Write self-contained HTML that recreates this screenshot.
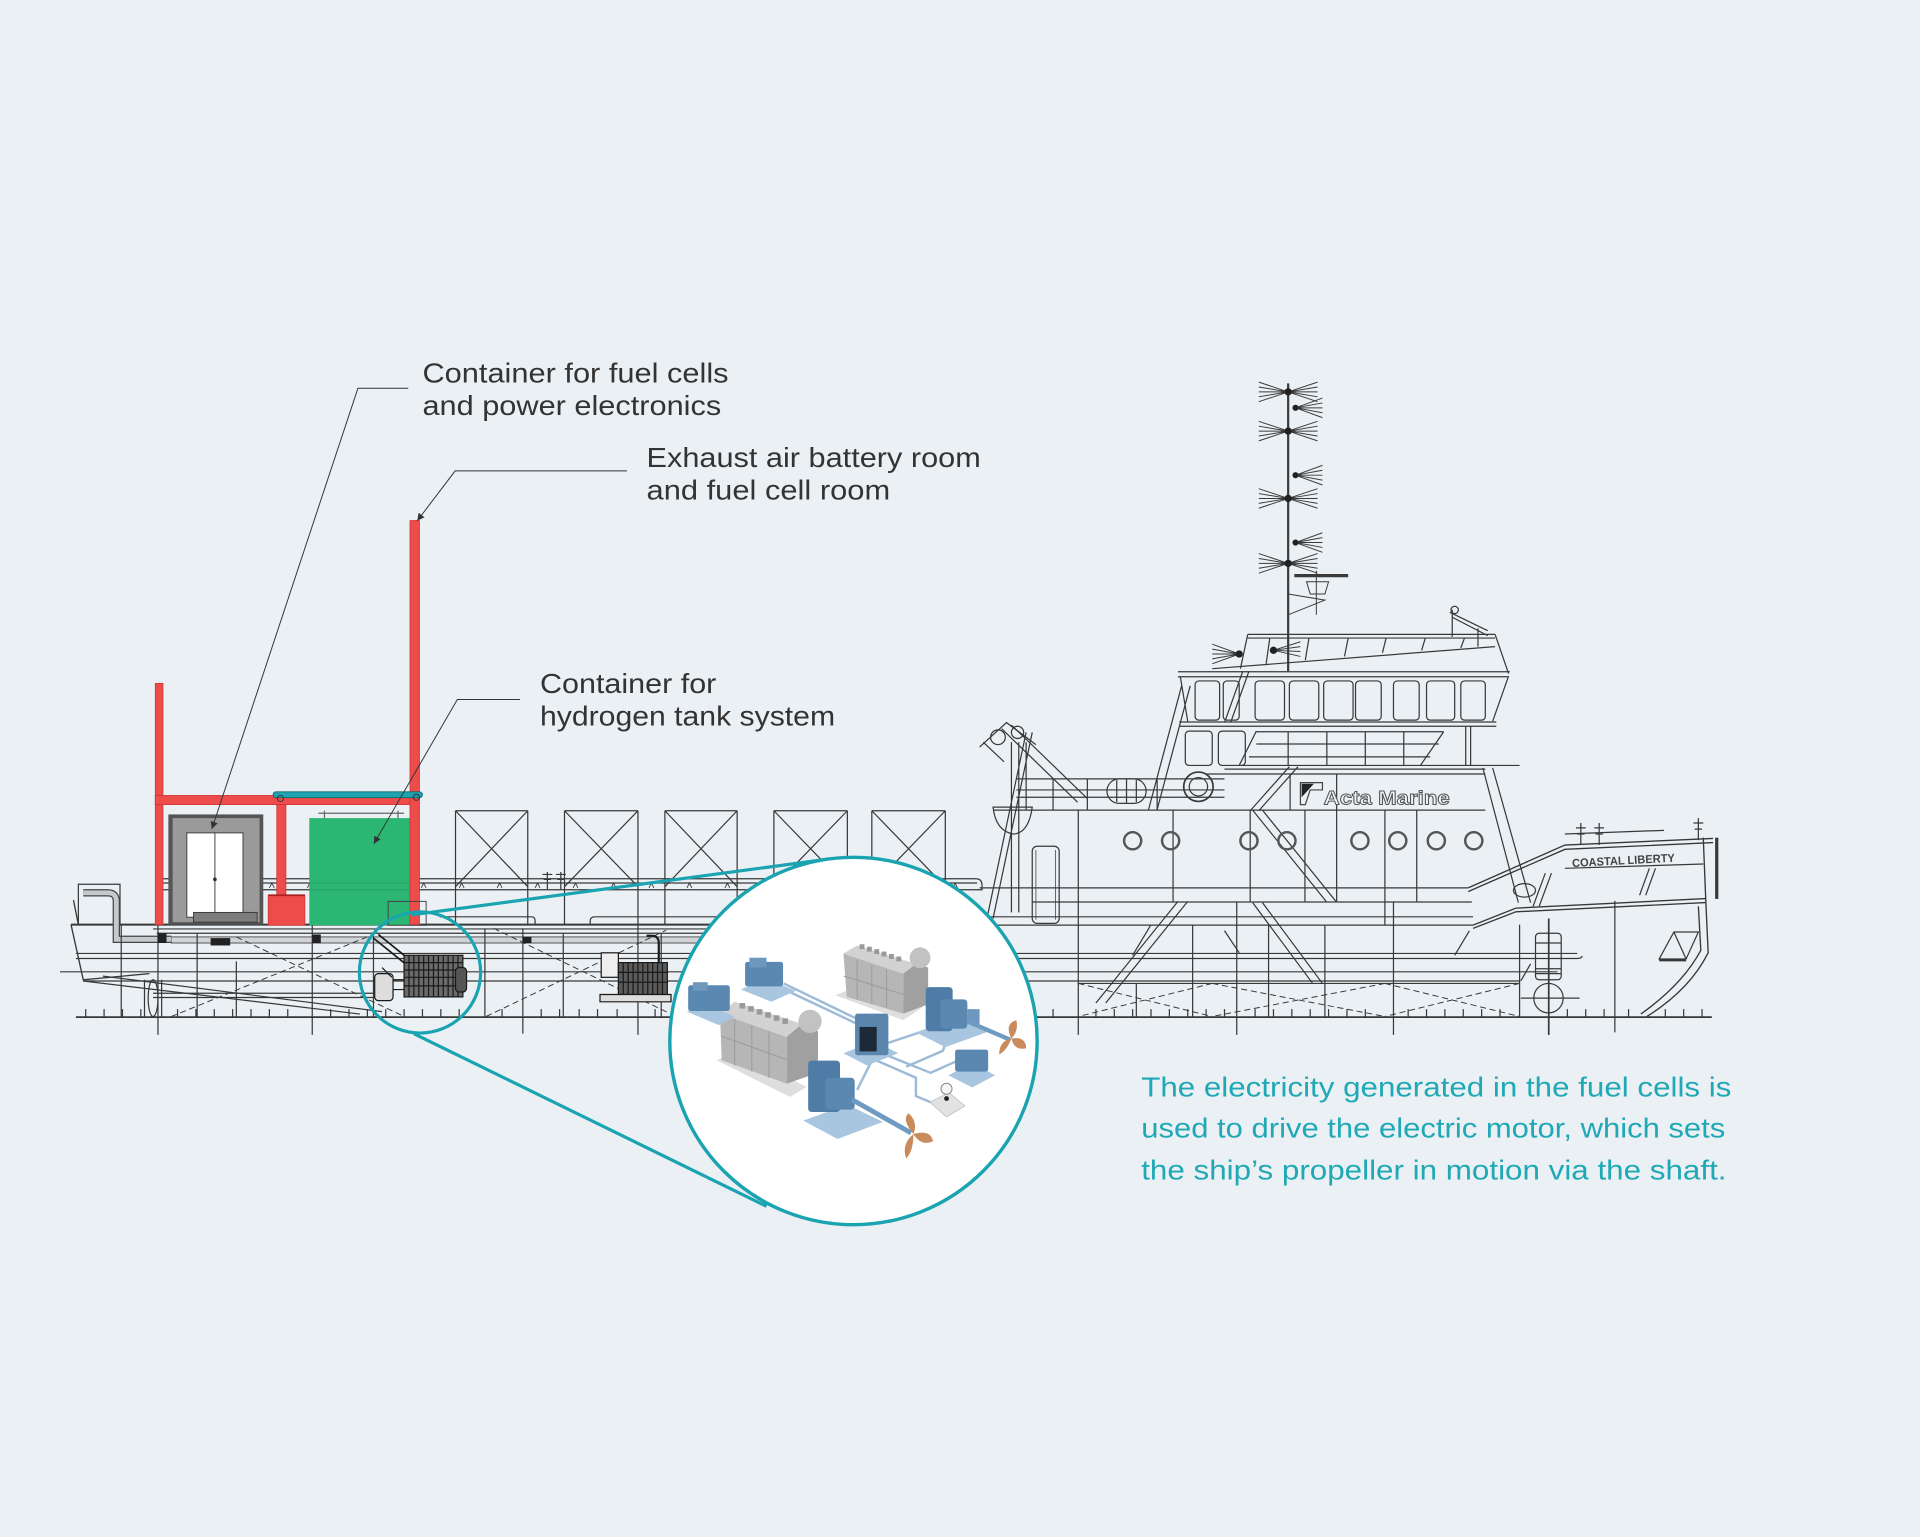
<!DOCTYPE html>
<html><head><meta charset="utf-8">
<style>
html,body{margin:0;padding:0;background:#ebf0f4;}
svg{display:block;}
text{font-family:"Liberation Sans",sans-serif;}
</style></head><body>
<svg xmlns="http://www.w3.org/2000/svg" width="1920" height="1537" viewBox="0 0 1568 1255" preserveAspectRatio="none">
<defs>
<marker id="ar" markerUnits="userSpaceOnUse" markerWidth="7" markerHeight="7" refX="6" refY="3" orient="auto"><path d="M0,0 L6,3 L0,6 Z" fill="#333"/></marker>
</defs>
<rect width="1568" height="1255" fill="#ebf0f4"/>

<!-- ================= HULL LINES ================= -->
<g stroke="#383838" stroke-width="1" fill="none">
  <path d="M58,755 H812" stroke-width="1.6"/>
  <path d="M125,758.5 H812 M128,762 H812"/>
  <path d="M62,778.5 H1288 M62,782.6 H1288 Q1292,782.6 1292,780.5"/>
  <path d="M49,793.5 H1272"/>
  <path d="M68,801 H1241"/>
  <path d="M125,811 H320 M125,814.5 H320"/>
  <path d="M62,830.5 H1398" stroke-width="1.5"/>
  <rect x="140" y="765" width="660" height="5" fill="#d0d4d8" stroke="#555" stroke-width="0.8"/>
  <path d="M128,717.5 H797 Q802,717.5 802,723 V727 M128,721 H798 M128,726.5 H802"/>
  <path d="M158,725 l2,-4 l2,4 M189,725 l2,-4 l2,4 M220,725 l2,-4 l2,4 M251,725 l2,-4 l2,4 M282,725 l2,-4 l2,4 M313,725 l2,-4 l2,4 M344,725 l2,-4 l2,4 M375,725 l2,-4 l2,4 M406,725 l2,-4 l2,4 M437,725 l2,-4 l2,4 M468,725 l2,-4 l2,4 M499,725 l2,-4 l2,4 M530,725 l2,-4 l2,4 M561,725 l2,-4 l2,4 M592,725 l2,-4 l2,4 M623,725 l2,-4 l2,4 M654,725 l2,-4 l2,4 M685,725 l2,-4 l2,4 M716,725 l2,-4 l2,4 M747,725 l2,-4 l2,4 M778,725 l2,-4 l2,4" stroke-width="0.7"/>
  <path d="M447,726 V712 M443,714 H451 M444,718 H450 M458,726 V712 M454,714 H462 M455,718 H461"/>
  <path d="M372,662 H431 M372,662 V755 M431,662 V755 M372,662 L431,724 M431,662 L372,724"/>
  <path d="M461,662 H521 M461,662 V755 M521,662 V755 M461,662 L521,724 M521,662 L461,724"/>
  <path d="M543,662 H602 M543,662 V755 M602,662 V755 M543,662 L602,724 M602,662 L543,724"/>
  <path d="M632,662 H692 M632,662 V755 M692,662 V755 M632,662 L692,724 M692,662 L632,724"/>
  <path d="M712,662 H772 M712,662 V755 M772,662 V755 M712,662 L772,724 M772,662 L712,724"/>
  <path d="M359,748.6 H434 Q437,748.6 437,752 V755 M482,755 V752 Q482,748.6 486,748.6 H797 Q800,748.6 800,752 V755"/>
  <path d="M58,755 L68,800 L122,795 M60,735 L64,755" stroke-width="1.1"/>
  <path d="M64,755 V722 H98 V755"/>
  <path d="M68,729 H88 Q95,729 95,736 V767 H140" stroke="#444" stroke-width="6"/>
  <path d="M68,729 H88 Q95,729 95,736 V767 H140" stroke="#c6c9cc" stroke-width="4"/>
  <ellipse cx="125" cy="815" rx="4" ry="15"/>
  <path d="M118,800 V830 M132,800 V830"/>
  <path d="M68,801 L294,828 M84,797 L312,826"/>
  <path d="M129,755 V845 M255,755 V845 M396,758 V830 M427,758 V844 M521,755 V845 M99,755 V830 M161,762 V830 M193,785 V830 M305,762 V830 M460,762 V830 M540,762 V830"/>
  <path d="M403,758 L547,827.5 M397,830 L544,759.5 M193,765 L330,830 M300,765 L140,830" stroke-dasharray="5 3" stroke-width="0.8"/>
  <path d="M880.6,803 L990,830 M990,803 L880.6,830 M990,803 L1131,830 M1131,803 L990,830 M1131,803 L1241,830 M1241,803 L1131,830" stroke-dasharray="5 3" stroke-width="0.8"/>
  <path d="M880,803 H1241"/>
  <path d="M70,824 V831 M85,824 V831 M100,824 V831 M115,824 V831 M145,824 V831 M160,824 V831 M175,824 V831 M190,824 V831 M205,824 V831 M220,824 V831 M235,824 V831 M270,824 V831 M285,824 V831 M300,824 V831 M315,824 V831 M330,824 V831 M345,824 V831 M360,824 V831 M375,824 V831 M410,824 V831 M442,824 V831 M457,824 V831 M473,824 V831 M488,824 V831 M504,824 V831 M535,824 V831 M860,824 V831 M895,824 V831 M910,824 V831 M925,824 V831 M940,824 V831 M955,824 V831 M970,824 V831 M985,824 V831 M1000,824 V831 M1025,824 V831 M1040,824 V831 M1055,824 V831 M1070,824 V831 M1085,824 V831 M1100,824 V831 M1115,824 V831 M1150,824 V831 M1165,824 V831 M1180,824 V831 M1195,824 V831 M1210,824 V831 M1225,824 V831 M1280,824 V831 M1295,824 V831 M1310,824 V831 M1330,824 V831 M1360,824 V831 M1375,824 V831 M1390,824 V831"/>

  <path d="M800,725 H1199 M843,736.5 H1202 M800,748.6 H1203 M800,755.4 H1203"/>
  <path d="M1199,725 L1278,690 L1399,684.6 M1199,728 L1278,693.5 L1399,688" stroke-width="1.1"/>
  <path d="M1203,755.4 L1238,741.5 L1393,733.7 M1203,758 L1238,744.5 L1393,737" stroke-width="1.1"/>
  <path d="M880.6,661.5 V845 M1010,736 V845 M1138,736 V845 M1265,750 V845 M958,661.5 V736 M1021,661.5 V736 M1065.7,661.5 V736 M1091.6,632 V736 M1131,661.5 V755 M1157,661.5 V736 M928,803 V830 M974,755 V830 M1036,755 V830 M1082,755 V830 M1241,755 V830 M1318.8,735.6 V843"/>
  <path d="M962,736 L895,819 M970,736 L903,819 M1023,737 L1072,803 M1031,737 L1080,803 M1023,661.5 L1083,736 M1031,661.5 L1091,736 M1053,626 L1021,662 M1060,626 L1028,662"/>
  <path d="M1000,760 L1012,778 M1250,787 L1242,801 M1200,760 L1188,780 M940,755 L925,780" />

  <path d="M1391,684 L1393,734 M1393,734 L1395,778 Q1380,808 1345,830 M1387,740 L1389,776 Q1374,804 1340,828" stroke-width="1.1"/>
  <path d="M1402,684 V734" stroke-width="2.6"/>
  <path d="M1278,681 L1359,678 M1278,709 L1391,705.5 M1262,713 L1252,740 M1267,713 L1257,740 M1347,709 L1339,731 M1352,709 L1344,731"/>
  <ellipse cx="1245" cy="727" rx="9" ry="5.5"/>
  <path d="M1291,672 V690 M1287,676 H1295 M1288,681 H1294 M1306,672 V690 M1302,676 H1310 M1303,681 H1309 M1387,668 V686 M1383,672 H1391 M1384,677 H1390"/>
  <rect x="1254" y="762" width="21" height="38" rx="3"/>
  <path d="M1254,770 H1275 M1254,791 H1275 M1254,795 H1275 M1264.6,750 V845 M1242,815 H1290"/>
  <circle cx="1264.6" cy="815" r="12"/>
  <path d="M1367,761 H1387 L1377,783 H1355 Z M1367,761 L1377,783"/>
  <path d="M1355,784 H1377" stroke-width="2"/>

  <path d="M811,661.5 H1213"/>
  <path d="M1211,627 L1240,737 M1219,627 L1250,737"/>
  <rect x="843" y="691" width="22" height="63" rx="4"/>
  <path d="M846,694 V751 M862,694 V751" stroke-width="0.6"/>
  <path d="M806,750 L838,598 M811,750 L843,598 M818,595 L880,655 M826,592 L888,652 M826,606 V745 M832,606 V745 M838,606 V661"/>
  <circle cx="815" cy="602" r="6"/>
  <circle cx="831" cy="598" r="5"/>
  <path d="M800,610 L822,590 L846,608 M803,606 L820,622"/>
  <path d="M811,659 H843 Q840,681 827,681 Q813,678 811,659 Z"/>
  <path d="M830,636 H1000 M830,645 H1000 M830,651 H1000 M860,636 V661 M888,636 V661 M945,636 V661"/>
  <rect x="904" y="636" width="32" height="20" rx="10"/>
  <path d="M920,636 V656 M912,637 V655 M928,637 V655"/>
  <circle cx="978.7" cy="642.4" r="12" stroke-width="1.4"/>
  <circle cx="978.7" cy="642.4" r="7.5"/>
  <path d="M938,661 L965,560 M945,661 L972,560"/>
  <path d="M985,632 H1213 M1000,628 H1213 M1053.6,632 V661"/>
  <rect x="968" y="597" width="22" height="28" rx="3"/>
  <rect x="995" y="597" width="22" height="28" rx="3"/>
  <path d="M1026,597.5 H1179 M1026,607.5 H1175 M1020,618 H1168 M1012,625 H1241 M1052,597 V625 M1083.6,597 V625 M1115,597 V625 M1146.4,597 V625 M1179,597.5 L1160,625 M1197,593 V625 M1201,593 V625 M1012,625 L1026,597"/>
  <path d="M963,589.5 H1222 M963,593 H1222"/>
  <path d="M962,548.5 H1233 M962,552.6 H1232 M964,553 L970,589 M1232,552 L1219,589"/>
  <rect x="976" y="556" width="20" height="32" rx="3"/>
  <rect x="999" y="556" width="13" height="32" rx="3"/>
  <rect x="1025" y="556" width="24" height="32" rx="3"/>
  <rect x="1053" y="556" width="24" height="32" rx="3"/>
  <rect x="1081" y="556" width="24" height="32" rx="3"/>
  <rect x="1107" y="556" width="21" height="32" rx="3"/>
  <rect x="1138" y="556" width="21" height="32" rx="3"/>
  <rect x="1165" y="556" width="23" height="32" rx="3"/>
  <rect x="1193" y="556" width="20" height="32" rx="3"/>
  <path d="M1015,548 L1000,590 M1020,548 L1005,590"/>
  <path d="M1019,518 H1221 M1019,521 H1221 M1019,518 L1013,546 M1221,518 L1232,550 M990,546 L1221,528"/>
  <path d="M1037,521 L1034,542 M1069,521 L1066,539 M1101,521 L1098,536 M1132,521 L1129,533 M1164,521 L1161,531 M1196,521 L1193,529"/>
  <path d="M1186,498 V520 M1184,500 L1215,515 M1186,504 L1215,519 M1207,513 V528"/>
  <circle cx="1188" cy="498" r="3"/>
</g>

<g stroke="#555" stroke-width="2" fill="none">
  <circle cx="925" cy="686.5" r="7"/><circle cx="956" cy="686.5" r="7"/>
  <circle cx="1020" cy="686.5" r="7"/><circle cx="1051" cy="686.5" r="7"/>
  <circle cx="1110.6" cy="686.5" r="7"/><circle cx="1141.5" cy="686.5" r="7"/>
  <circle cx="1173" cy="686.5" r="7"/><circle cx="1203.6" cy="686.5" r="7"/>
</g>

<g stroke="#3a3a3a" fill="none" stroke-width="0.8">
  <path d="M1052,313 V548" stroke-width="1.8"/>
  <path d="M1028,312L1052,320M1028,316L1052,320M1028,320L1052,320M1028,324L1052,320M1028,328L1052,320M1076,312L1052,320M1076,316L1052,320M1076,320L1052,320M1076,324L1052,320M1076,328L1052,320"/>
  <path d="M1028,344L1052,352M1028,348L1052,352M1028,352L1052,352M1028,356L1052,352M1028,360L1052,352M1076,344L1052,352M1076,348L1052,352M1076,352L1052,352M1076,356L1052,352M1076,360L1052,352"/>
  <path d="M1028,399L1052,407M1028,403L1052,407M1028,407L1052,407M1028,411L1052,407M1028,415L1052,407M1076,399L1052,407M1076,403L1052,407M1076,407L1052,407M1076,411L1052,407M1076,415L1052,407"/>
  <path d="M1028,452L1052,460M1028,456L1052,460M1028,460L1052,460M1028,464L1052,460M1028,468L1052,460M1076,452L1052,460M1076,456L1052,460M1076,460L1052,460M1076,464L1052,460M1076,468L1052,460"/>
  <path d="M1058,333L1080,325M1058,333L1080,329M1058,333L1080,333M1058,333L1080,337M1058,333L1080,341"/>
  <path d="M1058,388L1080,380M1058,388L1080,384M1058,388L1080,388M1058,388L1080,392M1058,388L1080,396"/>
  <path d="M1058,443L1080,435M1058,443L1080,439M1058,443L1080,443M1058,443L1080,447M1058,443L1080,451"/>
  <path d="M1012,534L990,526M1012,534L990,530M1012,534L990,534M1012,534L990,538M1012,534L990,542"/>
  <path d="M1040,531L1062,524M1040,531L1062,528M1040,531L1062,532M1040,531L1062,536"/>
  <path d="M1057,470 H1101" stroke-width="2.6"/>
  <path d="M1067,475 H1085 L1082,485 H1070 Z M1052,485 L1082,490 L1052,502 M1075,466 V502"/>
</g>
<g fill="#222">
  <circle cx="1052" cy="320" r="3"/><circle cx="1052" cy="352" r="3"/><circle cx="1052" cy="407" r="3"/><circle cx="1052" cy="460" r="3"/>
  <circle cx="1058" cy="333" r="2.5"/><circle cx="1058" cy="388" r="2.5"/><circle cx="1058" cy="443" r="2.5"/>
  <circle cx="1012" cy="534" r="3"/><circle cx="1040" cy="531" r="3"/>
</g>

<path d="M1062,639 H1080 V645 H1070 L1066,657 H1062 Z" fill="none" stroke="#444" stroke-width="1"/>
<path d="M1063,640 H1073 L1063,651 Z" fill="#222"/>
<text x="1081" y="657" font-size="16" font-weight="bold" fill="#f2f4f6" stroke="#555" stroke-width="0.8" textLength="103" lengthAdjust="spacingAndGlyphs">Acta Marine</text>
<text x="1284" y="708" font-size="9.5" font-weight="bold" fill="#444" transform="rotate(-3 1284 708)" textLength="84" lengthAdjust="spacingAndGlyphs">COASTAL LIBERTY</text>

<g fill="#222">
  <rect x="129" y="762" width="7" height="8"/>
  <rect x="255" y="763" width="7" height="7"/>
  <rect x="427" y="765" width="7" height="5"/>
  <rect x="172" y="766" width="16" height="6"/>
</g>

<g stroke="#1a1a1a" stroke-width="1" fill="none">
  <path d="M305,766 L331,787 M309,763 L335,784" stroke-width="1.4"/>
  <rect x="330" y="780" width="48" height="34" fill="#6a6a6a"/>
  <path d="M334,780 V814 M338,780 V814 M342,780 V814 M346,780 V814 M350,780 V814 M354,780 V814 M358,780 V814 M362,780 V814 M366,780 V814 M370,780 V814 M374,780 V814 M330,786 H378 M330,792 H378 M330,798 H378 M330,805 H378"/>
  <rect x="306" y="795" width="15" height="22" rx="3" fill="#ddd"/>
  <path d="M321,800 H330 M321,808 H330 M312,790 L320,798"/>
  <rect x="372" y="790" width="9" height="20" rx="3" fill="#555"/>
</g>
<g stroke="#1a1a1a" stroke-width="1" fill="none">
  <rect x="491" y="778" width="14" height="20" fill="#eee"/>
  <rect x="505" y="786" width="40" height="26" fill="#5a5a5a"/>
  <path d="M509,786 V812 M513,786 V812 M517,786 V812 M521,786 V812 M525,786 V812 M529,786 V812 M533,786 V812 M537,786 V812 M541,786 V812 M505,794 H545 M505,802 H545"/>
  <path d="M490,812 H548 V818 H490 Z" fill="#ddd"/>
  <path d="M538,786 V770 Q538,764 532,764 H528" stroke-width="1.8"/>
</g>

<rect x="137.5" y="665" width="77.5" height="90" fill="#555"/>
<rect x="141" y="668" width="71" height="85" fill="#9a9a9a"/>
<rect x="152.5" y="680" width="46" height="69" fill="#fff" stroke="#555" stroke-width="1"/>
<path d="M175.5,680 V749" stroke="#555" stroke-width="0.9"/>
<circle cx="175.5" cy="718" r="1.5" fill="#333"/>
<rect x="158" y="745" width="52" height="8" fill="#7d7d7d" stroke="#333" stroke-width="0.7"/>
<rect x="252.6" y="668" width="82.4" height="87.5" fill="#2bb673"/>
<path d="M265,662 V668 M325,662 V668 M260,664 H330" stroke="#666" stroke-width="1"/>
<path d="M252.6,721 H335 M252.6,726.5 H335" stroke="#1e8e58" stroke-width="0.6" opacity="0.6"/>
<g fill="#ee4b4b" stroke="#c33" stroke-width="0.6">
  <rect x="126.8" y="558" width="6.3" height="197"/>
  <rect x="126.8" y="649.5" width="215.5" height="7.5"/>
  <rect x="334.8" y="425" width="7.8" height="330"/>
  <rect x="226" y="657" width="7.5" height="74"/>
  <rect x="219" y="731" width="30" height="24.5"/>
</g>
<path d="M219,731 H249" stroke="#a22" stroke-width="1.5"/>
<rect x="223" y="646.5" width="122" height="4.8" rx="2.4" fill="#1ea3b3" stroke="#166" stroke-width="0.7"/>
<circle cx="229" cy="652" r="2.5" fill="none" stroke="#333" stroke-width="0.8"/>
<circle cx="340" cy="651" r="2.5" fill="none" stroke="#333" stroke-width="0.8"/>
<rect x="317" y="736" width="31" height="19.5" fill="none" stroke="#444" stroke-width="0.8"/>

<circle cx="343" cy="794" r="49.5" fill="none" stroke="#1aa3b0" stroke-width="2.6"/>
<path d="M336.4,747 L676.9,701.4" stroke="#1aa3b0" stroke-width="2.6"/>
<path d="M338,844 L626,985" stroke="#1aa3b0" stroke-width="2.6"/>
<circle cx="697" cy="850" r="150" fill="#fff" stroke="#1aa3b0" stroke-width="2.8"/>

<g>
  <g stroke="#9dbbd6" stroke-width="2" fill="none">
    <path d="M640,803 L700,832 M597,822 L645,845 M720,860 L760,876 L800,858 M724,852 L790,830 M716,866 L748,880 L748,895 L760,900 M712,866 L700,890 M740,871 L770,858 L775,845"/>
    <path d="M601,822 L650,848 M645,810 L700,836"/>
  </g>
  <polygon points="682,812.6 737.8,833 754,822 699.6,805.8" fill="#dedede"/>
  <polygon points="688.8,778.6 737.8,795 737.8,827.6 691.5,814" fill="#b6b6b6"/>
  <polygon points="688.8,778.6 700,772 748,787 737.8,795" fill="#d2d2d2"/>
  <polygon points="737.8,795 748,787 758,790 758,820 737.8,827.6" fill="#a0a0a0"/>
  <circle cx="751.4" cy="782" r="8.5" fill="#c2c2c2"/>
  <g fill="#999"><rect x="702" y="771" width="4" height="4"/><rect x="708" y="773" width="4" height="4"/><rect x="714" y="775" width="4" height="4"/><rect x="720" y="777" width="4" height="4"/><rect x="726" y="779" width="4" height="4"/><rect x="732" y="781" width="4" height="4"/></g>
  <path d="M700,784 V816 M712,788 V820 M724,792 V823 M689,797 L738,812" stroke="#9a9a9a" stroke-width="0.8"/>
  <polygon points="585.3,865.7 645.2,895.6 658.8,887.5 600.3,858.9" fill="#dedede"/>
  <polygon points="588,827.6 642.5,846.6 642.5,884.8 589.4,865.7" fill="#b6b6b6"/>
  <polygon points="588,827.6 600,818 655,836 642.5,846.6" fill="#d2d2d2"/>
  <polygon points="642.5,846.6 655,836 668,842 668,876 642.5,884.8" fill="#a0a0a0"/>
  <circle cx="661.5" cy="834" r="9.5" fill="#c2c2c2"/>
  <g fill="#999"><rect x="604" y="819" width="4.5" height="4.5"/><rect x="611" y="821.5" width="4.5" height="4.5"/><rect x="618" y="824" width="4.5" height="4.5"/><rect x="625" y="826.5" width="4.5" height="4.5"/><rect x="632" y="829" width="4.5" height="4.5"/><rect x="639" y="831.5" width="4.5" height="4.5"/></g>
  <path d="M600,832 V870 M614,837 V875 M628,842 V880 M589,846 L642,865" stroke="#9a9a9a" stroke-width="0.8"/>
  <polygon points="605,808 630,818 650,809 625,799" fill="#a9c6e0"/>
  <rect x="608.5" y="785.4" width="31" height="20" rx="2" fill="#5b88b0"/>
  <rect x="612" y="782" width="14" height="8" fill="#6d97bd"/>
  <polygon points="561,826 587,837 600,830 574,819" fill="#a9c6e0"/>
  <rect x="562" y="804.5" width="34" height="21" rx="2" fill="#5b88b0"/>
  <rect x="566" y="802" width="12" height="7" fill="#6d97bd"/>
  <polygon points="688.8,860 708,870 733.7,860 714,850" fill="#a9c6e0"/>
  <rect x="698.3" y="827.6" width="27.2" height="34" rx="2" fill="#5a86ae"/>
  <rect x="702" y="838.5" width="14" height="20" fill="#1e2937"/>
  <polygon points="748,843 772,855 808,842 784,830" fill="#a9c6e0"/>
  <rect x="756" y="806" width="22" height="36" rx="3" fill="#4f7ca6"/>
  <rect x="768" y="816" width="22" height="24" rx="3" fill="#5b88b0"/>
  <rect x="790" y="824" width="10" height="12" fill="#6d97bd"/>
  <path d="M790,834 L825,849" stroke="#6f9bc2" stroke-width="3.5"/>
  <path d="M826,848 Q820,836 830,833 Q832,842 826,848 Z M826,848 Q838,846 838,856 Q828,858 826,848 Z M826,848 Q822,858 816,861 Q816,850 826,848 Z" fill="#c98b5c"/>
  <polygon points="656,915 684,930 721,916 692,902" fill="#a9c6e0"/>
  <rect x="660" y="866" width="26" height="42" rx="3" fill="#4f7ca6"/>
  <rect x="674" y="880" width="24" height="26" rx="3" fill="#5b88b0"/>
  <path d="M696,898 L744,925" stroke="#6f9bc2" stroke-width="4"/>
  <path d="M746,926 Q736,914 742,909 Q750,916 746,926 Z M746,926 Q760,922 762,932 Q752,936 746,926 Z M746,926 Q746,940 740,946 Q736,934 746,926 Z" fill="#c98b5c"/>
  <polygon points="774.5,878 794,888 812.6,878 794,868" fill="#a9c6e0"/>
  <rect x="780" y="857" width="27" height="18" rx="2" fill="#5b88b0"/>
  <polygon points="759.5,900 773,912 788,903 775,892" fill="#e2e2e2" stroke="#bbb" stroke-width="0.6"/>
  <circle cx="773" cy="889" r="4.5" fill="#f4f4f4" stroke="#888" stroke-width="0.8"/>
  <circle cx="773" cy="897" r="2" fill="#222"/>
</g>

<g stroke="#333" stroke-width="0.8" fill="none">
  <path d="M333.4,317 H292.3 L173,676.9" marker-end="url(#ar)"/>
  <path d="M512,384.5 H371.7 L340.7,425.3" marker-end="url(#ar)"/>
  <path d="M424.6,571.2 H373.5 L305.3,689" marker-end="url(#ar)"/>
</g>
<g fill="#333" font-size="23">
  <text x="345" y="312.5" textLength="250" lengthAdjust="spacingAndGlyphs">Container for fuel cells</text>
  <text x="345" y="339" textLength="244" lengthAdjust="spacingAndGlyphs">and power electronics</text>
  <text x="528" y="381.5" textLength="273" lengthAdjust="spacingAndGlyphs">Exhaust air battery room</text>
  <text x="528" y="408" textLength="199" lengthAdjust="spacingAndGlyphs">and fuel cell room</text>
  <text x="441" y="566" textLength="144" lengthAdjust="spacingAndGlyphs">Container for</text>
  <text x="441" y="592.5" textLength="241" lengthAdjust="spacingAndGlyphs">hydrogen tank system</text>
</g>
<g fill="#1fa8b6" font-size="22.5">
  <text x="932" y="895.5" textLength="482" lengthAdjust="spacingAndGlyphs">The electricity generated in the fuel cells is</text>
  <text x="932" y="929" textLength="477" lengthAdjust="spacingAndGlyphs">used to drive the electric motor, which sets</text>
  <text x="932" y="963" textLength="478" lengthAdjust="spacingAndGlyphs">the ship’s propeller in motion via the shaft.</text>
</g>
</svg>
</body></html>
